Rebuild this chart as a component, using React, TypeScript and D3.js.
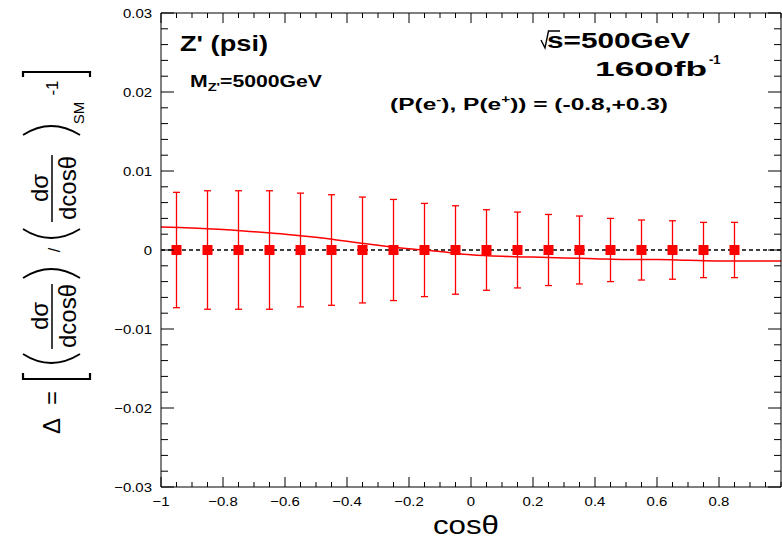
import React from "react";
import * as d3 from "d3";

// ---- data ----
const cosTheta = [-0.95, -0.85, -0.75, -0.65, -0.55, -0.45, -0.35, -0.25, -0.15, -0.05, 0.05, 0.15, 0.25, 0.35, 0.45, 0.55, 0.65, 0.75, 0.85];
const deltaValues = [0, 0, 0, 0, 0, 0, 0, 0, 0, 0, 0, 0, 0, 0, 0, 0, 0, 0, 0];
const deltaErrors = [0.0073, 0.0075, 0.0075, 0.0075, 0.0072, 0.007, 0.0067, 0.0064, 0.0059, 0.0056, 0.0051, 0.0048, 0.0045, 0.0043, 0.004, 0.0038, 0.0037, 0.0035, 0.0035];
const theoryCos = [-1, -0.9, -0.8, -0.7, -0.6, -0.5, -0.4, -0.3, -0.2, -0.1, 0, 0.1, 0.2, 0.3, 0.4, 0.5, 0.6, 0.7, 0.8, 0.9, 1];
const theoryDelta = [0.0029, 0.0028, 0.0026, 0.0023, 0.002, 0.0016, 0.0011, 0.0006, 0.00015, -0.0002, -0.0006, -0.0008, -0.0009, -0.001, -0.0011, -0.0012, -0.0012, -0.0013, -0.0014, -0.0014, -0.0014];
const xTickValues = [-1, -0.8, -0.6, -0.4, -0.2, 0, 0.2, 0.4, 0.6, 0.8];
const xTickLabels = ["\u22121", "\u22120.8", "\u22120.6", "\u22120.4", "\u22120.2", "0", "0.2", "0.4", "0.6", "0.8"];
const yTickValues = [0.03, 0.02, 0.01, 0, -0.01, -0.02, -0.03];
const yTickLabels = ["0.03", "0.02", "0.01", "0", "\u22120.01", "\u22120.02", "\u22120.03"];

const W = 782;
const H = 539;
const L = 161;
const R = 781;
const T = 13;
const B = 487;
const FONT = "'Liberation Sans', Arial, Helvetica, sans-serif";

export default function App() {
  const x = d3.scaleLinear().domain([-1, 1]).range([L, R]);
  const y = d3.scaleLinear().domain([-0.03, 0.03]).range([B, T]);

  const xMinor = d3.range(-20, 21).map((i) => i * 0.05).filter((v) => v > -1.0001 && v < 1.0001);
  const yMinor = d3.range(-15, 16).map((i) => i * 0.002);
  const xMajorSet = new Set(xTickValues.map((v) => v.toFixed(2)));
  const yMajorSet = new Set(yTickValues.map((v) => v.toFixed(3)));

  const line = d3
    .line<number>()
    .x((_, i) => x(theoryCos[i]))
    .y((d) => y(d))
    .curve(d3.curveMonotoneX);

  const red = "#ff0000";
  const sq = 10;

  const rotText = (
    txt: React.ReactNode,
    bx: number,
    cy: number,
    fs: number,
    extra: any = {}
  ) => (
    <text
      transform={`translate(${bx},${cy}) rotate(-90)`}
      textAnchor="middle"
      fontFamily={FONT}
      fontSize={fs}
      fill="#000"
      {...extra}
    >
      {txt}
    </text>
  );

  return (
    <svg
      width={W}
      height={H}
      style={{ position: "absolute", left: 0, top: 0, background: "#fff" }}
    >
      <rect x={0} y={0} width={W} height={H} fill="#fff" />

      {/* zero dashed line */}
      <line x1={x(-1)} x2={x(1)} y1={y(0)} y2={y(0)} stroke="#000" strokeWidth={1.4} strokeDasharray="4,3" />

      {/* theory curve */}
      <path d={line(theoryDelta) || ""} fill="none" stroke={red} strokeWidth={1.5} />

      {/* error bars */}
      {cosTheta.map((c, i) => {
        const cx = x(c);
        const y1 = y(deltaValues[i] + deltaErrors[i]);
        const y2 = y(deltaValues[i] - deltaErrors[i]);
        return (
          <g key={"e" + i} stroke={red} strokeWidth={1.3}>
            <line x1={cx} x2={cx} y1={y1} y2={y2} />
            <line x1={cx - 3.5} x2={cx + 3.5} y1={y1} y2={y1} />
            <line x1={cx - 3.5} x2={cx + 3.5} y1={y2} y2={y2} />
          </g>
        );
      })}
      {/* markers */}
      {cosTheta.map((c, i) => (
        <rect key={"m" + i} x={x(c) - sq / 2} y={y(deltaValues[i]) - sq / 2} width={sq} height={sq} fill={red} />
      ))}

      {/* frame */}
      <g stroke="#000" strokeWidth={1} fill="none">
        <line x1={L} x2={R} y1={B} y2={B} />
        <line x1={L} x2={R} y1={T} y2={T} />
        <line x1={L} x2={L} y1={T} y2={B} />
        <line x1={R} x2={R} y1={T} y2={B} />
        {xMinor.map((v, i) => {
          const major = xMajorSet.has(v.toFixed(2));
          const len = major ? 10 : 5;
          return (
            <g key={"xt" + i}>
              <line x1={x(v)} x2={x(v)} y1={B} y2={B - len} />
              <line x1={x(v)} x2={x(v)} y1={T} y2={T + len} />
            </g>
          );
        })}
        {yMinor.map((v, i) => {
          const major = yMajorSet.has(v.toFixed(3));
          const len = major ? 13 : 7;
          return (
            <g key={"yt" + i}>
              <line x1={L} x2={L + len} y1={y(v)} y2={y(v)} />
              <line x1={R} x2={R - len} y1={y(v)} y2={y(v)} />
            </g>
          );
        })}
      </g>

      {/* tick labels */}
      {xTickValues.map((v, i) => (
        <text
          key={"xl" + i}
          transform={`translate(${x(v)},${506}) scale(1.15,1)`}
          textAnchor="middle"
          fontFamily={FONT}
          fontSize={13}
          fill="#000"
        >
          {xTickLabels[i]}
        </text>
      ))}
      {yTickValues.map((v, i) => (
        <text
          key={"yl" + i}
          transform={`translate(${152},${y(v) + 5}) scale(1.15,1)`}
          textAnchor="end"
          fontFamily={FONT}
          fontSize={13}
          fill="#000"
        >
          {yTickLabels[i]}
        </text>
      ))}

      {/* x title */}
      <text x={433} y={534} fontFamily={FONT} fontSize={25} textLength={66} lengthAdjust="spacingAndGlyphs" fill="#000">
        cosθ
      </text>

      {/* y title */}
      {rotText("Δ", 60, 426, 24)}
      {rotText("=", 60, 398, 24)}
      <g stroke="#000" strokeWidth={2.2} fill="none">
        <path d="M23,373 L23,379 L90,379 L90,373" />
        <path d="M23,77 L23,72 L90,72 L90,77" />
        <path d="M23,354 Q51,372 80,354" strokeWidth={1.8} />
        <path d="M23,278 Q51,260 80,278" strokeWidth={1.8} />
        <path d="M23,229 Q51,247 80,229" strokeWidth={1.8} />
        <path d="M23,135 Q51,117 80,135" strokeWidth={1.8} />
        <line x1={52} x2={52} y1={284} y2={349} strokeWidth={1.5} />
        <line x1={52} x2={52} y1={155} y2={222} strokeWidth={1.5} />
      </g>
      {rotText("dσ", 48, 316, 24)}
      {rotText("dcosθ", 76, 316, 24)}
      {rotText("/", 60, 250, 16)}
      {rotText("dσ", 48, 188, 24)}
      {rotText("dcosθ", 76, 188, 24)}
      {rotText("SM", 84, 113, 15)}
      {rotText("-1", 58, 88, 17)}

      {/* annotations */}
      <text x={180} y={51} fontFamily={FONT} fontWeight="bold" fontSize={22} textLength={88} lengthAdjust="spacingAndGlyphs" fill="#000">
        Z' (psi)
      </text>
      <text x={190} y={87} fontFamily={FONT} fontWeight="bold" fontSize={16} textLength={132} lengthAdjust="spacingAndGlyphs" fill="#000">
        M<tspan fontSize={11} dy={4}>Z'</tspan>
        <tspan dy={-4}>=5000GeV</tspan>
      </text>
      <path d="M541,40 L545,48 L548.5,31 L560,31" stroke="#000" strokeWidth={1.4} fill="none" />
      <text x={547} y={48} fontFamily={FONT} fontWeight="bold" fontSize={22} textLength={143} lengthAdjust="spacingAndGlyphs" fill="#000">
        s=500GeV
      </text>
      <text x={595} y={76} fontFamily={FONT} fontWeight="bold" fontSize={21} textLength={112} lengthAdjust="spacingAndGlyphs" fill="#000">
        1600fb
      </text>
      <text x={709} y={64} fontFamily={FONT} fontWeight="bold" fontSize={13} fill="#000">
        -1
      </text>
      <text x={390} y={110} fontFamily={FONT} fontWeight="bold" fontSize={16} textLength={278} lengthAdjust="spacingAndGlyphs" fill="#000">
        (P(e<tspan fontSize={10} dy={-7}>-</tspan>
        <tspan dy={7}>), P(e</tspan>
        <tspan fontSize={10} dy={-7}>+</tspan>
        <tspan dy={7}>)) = (-0.8,+0.3)</tspan>
      </text>
    </svg>
  );
}
